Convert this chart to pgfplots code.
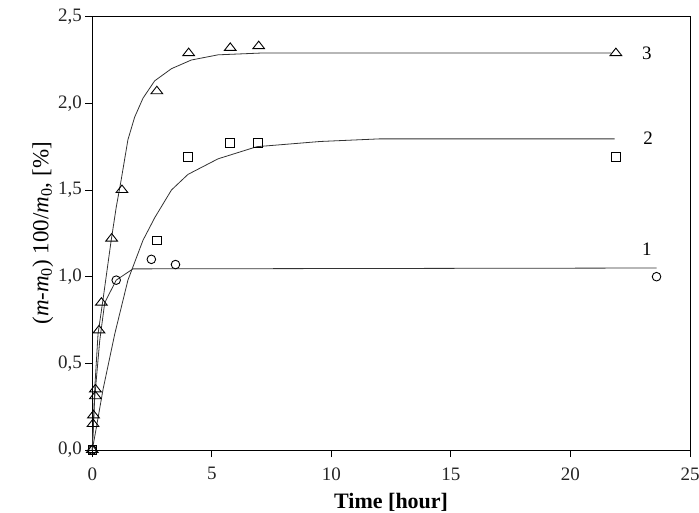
\documentclass[border=0pt]{standalone}
\usepackage{fontspec}
\setmainfont{Liberation Serif}
\usepackage{pgfplots}
\pgfplotsset{compat=1.18}
\begin{document}
\begin{tikzpicture}
\path[use as bounding box] (-92.3pt,-62pt) rectangle (606.7pt,450pt);
\begin{axis}[
  at={(0,0)}, anchor=south west,
  scale only axis, width=597.7pt, height=433.3pt,
  xmin=0, xmax=25, ymin=0, ymax=2.5,
  xtick={0,5,10,15,20,25}, ytick={0,0.5,1,1.5,2,2.5},
  tick align=outside, xtick pos=bottom, ytick pos=left,
  major tick length=7pt,
  axis line style={line width=1pt, black},
  tick style={line width=1pt, black},
  /pgf/number format/assume math mode=true,
  yticklabel style={/pgf/number format/.cd, fixed, fixed zerofill, precision=1, use comma},
  xticklabel style={yshift=-7pt},
  ticklabel style={font=\fontsize{19}{22}\selectfont, text=black!85},
  xlabel={\bfseries Time [hour]},
  ylabel={(\textit{m}-\textit{m}\textsubscript{0}) 100/\textit{m}\textsubscript{0}, [\%]},
  xlabel style={font=\fontsize{22}{26}\selectfont, yshift=-6pt},
  ylabel style={font=\fontsize{23}{27}\selectfont, yshift=-2pt},
  clip=false,
]
% fitted curves
\addplot[no marks, black!80, line width=0.8pt] coordinates {
 (0,0) (0.1,0.35) (0.24,0.67) (0.45,0.87) (0.78,1.20) (1.0,1.40) (1.21,1.56)
 (1.49,1.79) (1.77,1.92) (2.12,2.03) (2.61,2.13) (3.31,2.20) (4.14,2.25)
 (5.26,2.28) (7,2.29) (21.7,2.29)};
\addplot[no marks, black!80, line width=0.8pt] coordinates {
 (0,0) (0.17,0.13) (0.45,0.35) (0.94,0.67) (1.49,0.98) (2.12,1.21) (2.61,1.34)
 (3.31,1.50) (4.0,1.59) (5.26,1.68) (6.88,1.75) (9.53,1.78) (12,1.795) (21.85,1.795)};
\addplot[no marks, black!80, line width=0.8pt] coordinates {
 (0,0) (0.1,0.30) (0.31,0.63) (0.52,0.85) (1.0,0.98) (1.7,1.045) (23.6,1.05)};
% measured points
\addplot[only marks, mark=triangle, mark size=5pt, mark options={xscale=1.35, line width=0.9pt, black}] coordinates {
 (0,0) (0.03,0.15) (0.05,0.20) (0.13,0.31) (0.13,0.35) (0.28,0.69) (0.38,0.85)
 (0.81,1.22) (1.24,1.50) (2.7,2.07) (4.03,2.29) (5.77,2.32) (6.96,2.33) (21.9,2.29)};
\addplot[only marks, mark=square, mark size=4.3pt, mark options={line width=0.9pt, black}] coordinates {
 (0,0) (2.7,1.21) (4.0,1.69) (5.77,1.77) (6.93,1.77) (21.9,1.69)};
\addplot[only marks, mark=o, mark size=4.3pt, mark options={line width=0.9pt, black}] coordinates {
 (0,0) (1.0,0.98) (2.47,1.10) (3.48,1.07) (23.6,1.0)};
\node[font=\fontsize{19}{22}\selectfont] at (axis cs:23.2,2.29) {3};
\node[font=\fontsize{19}{22}\selectfont] at (axis cs:23.25,1.80) {2};
\node[font=\fontsize{19}{22}\selectfont] at (axis cs:23.2,1.16) {1};
\end{axis}
\end{tikzpicture}
\end{document}
